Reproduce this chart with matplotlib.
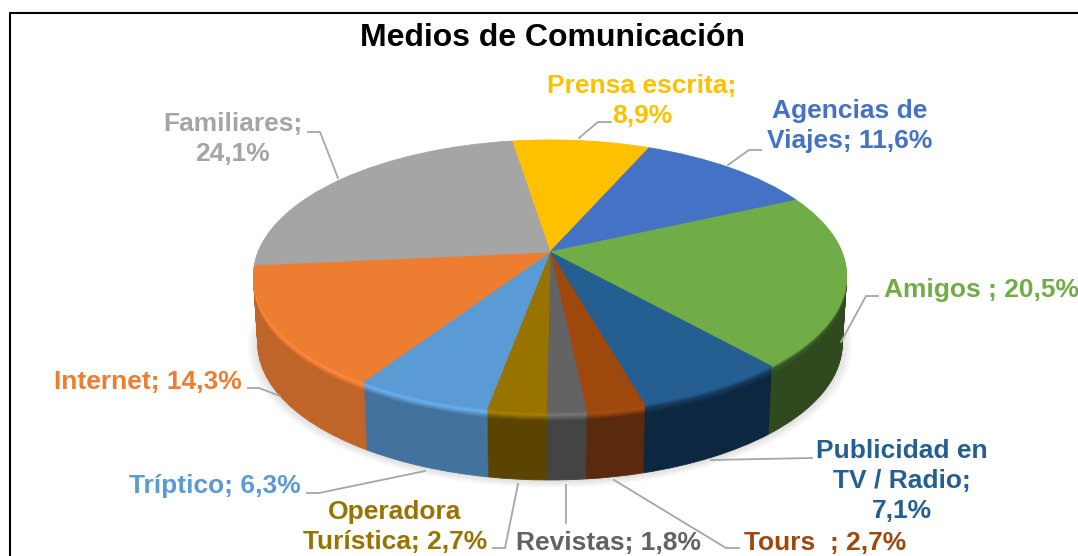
import numpy as np
import matplotlib
matplotlib.use('Agg')
import matplotlib.pyplot as plt
from matplotlib.patches import Circle
from matplotlib.transforms import Transform
from matplotlib.colors import to_rgb

plt.rcParams['font.family'] = ['Liberation Sans', 'DejaVu Sans']

# clockwise from the top
names = ['Prensa escrita', 'Agencias de Viajes', 'Amigos', 'Publicidad en TV / Radio', 'Tours',
         'Revistas', 'Operadora Turística', 'Tríptico', 'Internet', 'Familiares']
values = [8.9, 11.6, 20.5, 7.1, 2.7, 1.8, 2.7, 6.3, 14.3, 24.1]
label_texts = ['Prensa escrita;\n8,9%', 'Agencias de\nViajes; 11,6%', 'Amigos ; 20,5%',
               'Publicidad en\nTV / Radio;\n7,1%', 'Tours  ; 2,7%', 'Revistas; 1,8%',
               'Operadora\nTurística; 2,7%', 'Tríptico; 6,3%', 'Internet; 14,3%', 'Familiares;\n24,1%']
colors = ['#FFC000', '#4472C4', '#70AD47', '#255E91', '#9E480E',
          '#636363', '#997300', '#5B9BD5', '#ED7D31', '#A5A5A5']
walls = ['#8a6800', '#2b4a80', '#2f4a1f', '#0e2740', '#5a2a0e',
         '#444444', '#5a4400', '#44729f', '#c0652a', '#888888']
rims = ['#FFC000', '#4472C4', '#3c5c28', '#173f66', '#a84e10',
        '#777777', '#a88000', '#6ab0ee', '#ff8a3d', '#A5A5A5']

label_pos = [(642, 101), (850, 126), (981, 290), (902, 481), (825, 543),
             (608, 543), (395, 527), (215, 486), (148, 382), (233, 139)]
leaders = [[(611, 122), (598, 122), (579, 138)],
           [(761, 150), (749, 150), (728, 165)],
           [(878, 296), (866, 296), (841, 342)],
           [(812, 458), (711, 460)],
           [(739, 548), (726, 548), (614, 480)],
           [(566, 523), (566, 485)],
           [(493, 548), (505, 548), (518, 484)],
           [(307, 493), (319, 493), (425, 471)],
           [(248, 388), (259, 388), (280, 396)],
           [(308, 132), (320, 132), (338, 178)]]

START = 98.8
DEPTH = 68


class Tilt(Transform):
    # unit disc seen in perspective, output in pixels
    input_dims = 2
    output_dims = 2
    is_affine = False
    has_inverse = False

    def __init__(self, dy=0.0):
        super().__init__()
        self.dy = dy

    def transform_non_affine(self, values):
        values = np.asarray(values, dtype=float)
        w = 1 + 0.176 * values[:, 1]
        shrink = 1 - 0.015 * self.dy / DEPTH
        return np.column_stack((550 + shrink * 292 * values[:, 0] / w,
                                252 + self.dy - 131.8 * values[:, 1] / w))


def mix(a, b, t):
    a, b = np.array(to_rgb(a)), np.array(to_rgb(b))
    return tuple(a + (b - a) * t)


def draw_layer(ax, dy, cols):
    wedges, _ = ax.pie(values, colors=cols, startangle=START, counterclock=False,
                       wedgeprops=dict(linewidth=0.6))
    for wedge, col in zip(wedges, cols):
        wedge.set_edgecolor(col)
        wedge.set_transform(Tilt(dy) + ax.transData)


fig = plt.figure(figsize=(10.78, 5.56), dpi=100)
ax = fig.add_axes([0, 0, 1, 1])

# soft shadow under the disc
for i in range(10):
    ax.add_patch(Circle((0, 0), 1.035 - 0.0035 * i, facecolor='black', alpha=0.012,
                        linewidth=0, transform=Tilt(DEPTH + 1) + ax.transData))

# side wall, bevel going into top surface
for dy in range(DEPTH, 0, -1):
    if dy > 9:
        cols = walls
    elif dy > 3:
        cols = [mix(r, w, (dy - 3) / 6) for r, w in zip(rims, walls)]
    else:
        cols = [mix(c, r, dy / 3) for c, r in zip(colors, rims)]
    draw_layer(ax, dy, cols)
draw_layer(ax, 0, colors)

ax.set_aspect('auto')
ax.set_xlim(0, 1078)
ax.set_ylim(556, 0)
ax.axis('off')

# frame, open at right and bottom in the source crop
ax.plot([9.5, 9.5, 1078], [556, 12.5, 12.5], color='black', lw=1.5, clip_on=False)

for pts in leaders:
    xs, ys = zip(*pts)
    ax.plot(xs, ys, color='#a6a6a6', lw=1.3, solid_joinstyle='round')

ax.text(552, 37.5, 'Medios de Comunicación', fontsize=23, fontweight='bold',
        ha='center', va='center', color='black')
for txt, pos, col in zip(label_texts, label_pos, colors):
    ax.text(pos[0], pos[1], txt, fontsize=19, fontweight='bold', color=col,
            ha='center', va='center', linespacing=1.34, multialignment='center')

fig.savefig('out.png', dpi=100)
